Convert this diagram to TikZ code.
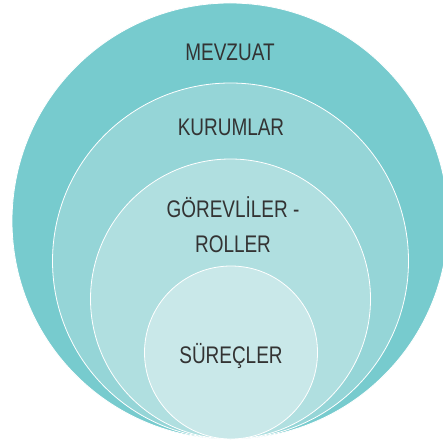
\documentclass[tikz,border=0pt]{standalone}
\usepackage{fontspec}
\setmainfont[FakeStretch=0.79]{Liberation Sans}
\usepackage{tikz}
\usetikzlibrary{positioning}
\definecolor{ringA}{HTML}{77CBCE}
\definecolor{ringB}{HTML}{95D5D7}
\definecolor{ringC}{HTML}{B0DFE0}
\definecolor{ringD}{HTML}{C9E8E9}
\definecolor{labelgray}{HTML}{333333}
\tikzset{
  ring/.style = {draw=white, line width=0.8pt, circle, inner sep=0pt},
  ringlabel/.style = {text=labelgray, align=center, font=\fontsize{24}{35}\selectfont}
}

\begin{document}
\begin{tikzpicture}[x=1pt, y=1pt]

    \useasboundingbox (0,0) rectangle (443,439);

    % Place the rings
    \node [ring, fill=ringA, minimum size=436] (mevzuat) at (230,218) {};
    \node [ring, fill=ringB, minimum size=356] (kurumlar) at (230.5,178) {};
    \node [ring, fill=ringC, minimum size=280] (gorevliler) at (230.5,140) {};
    \node [ring, fill=ringD, minimum size=173] (surecler) at (231,86.5) {};

    % Labels
    \node [ringlabel] (mevzuatlabel) at (230,387) {MEVZUAT};
    \node [ringlabel] (kurumlarlabel) at (231,312) {KURUMLAR};
    \node [ringlabel] (gorevlilerlabel) at (233,214) {GÖREVLİLER -\\ROLLER};
    \node [ringlabel] (sureclerlabel) at (231,83) {SÜREÇLER};

\end{tikzpicture}
\end{document}
